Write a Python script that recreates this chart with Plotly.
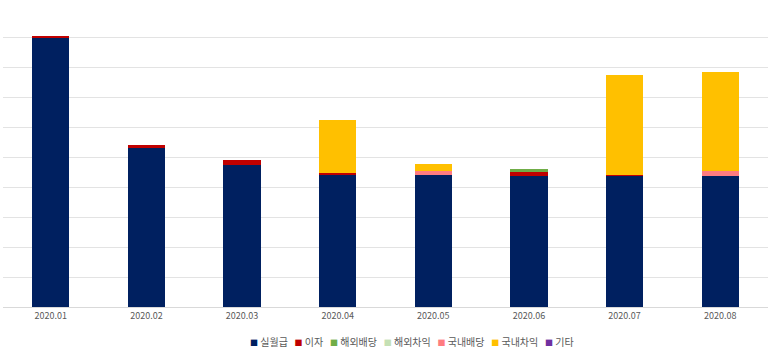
import plotly.graph_objects as go

categories = ["2020.01", "2020.02", "2020.03", "2020.04", "2020.05", "2020.06", "2020.07", "2020.08"]
series_names = ["실월급", "이자", "해외배당", "해외차익", "국내배당", "국내차익", "기타"]
salary      = [9.00, 5.32, 4.74, 4.39, 4.39, 4.37, 4.38, 4.38]
interest    = [0.04, 0.10, 0.16, 0.09, 0.00, 0.13, 0.03, 0.00]
fdividend   = [0.00, 0.00, 0.00, 0.00, 0.00, 0.10, 0.00, 0.00]
fgain       = [0.00, 0.00, 0.00, 0.00, 0.00, 0.00, 0.00, 0.00]
ddividend   = [0.00, 0.00, 0.00, 0.00, 0.14, 0.00, 0.00, 0.17]
dgain       = [0.00, 0.00, 0.00, 1.76, 0.24, 0.00, 3.33, 3.30]
other       = [0.00, 0.00, 0.00, 0.00, 0.00, 0.00, 0.00, 0.00]
series_values = [salary, interest, fdividend, fgain, ddividend, dgain, other]
colors = ["#002060", "#C00000", "#70AD47", "#C5E0B4", "#FF7C80", "#FFC000", "#7030A0"]

fig = go.Figure()
for name, vals, col in zip(series_names, series_values, colors):
    fig.add_trace(go.Bar(x=categories, y=vals, name=name, marker_color=col,
                         marker_line_width=0, showlegend=False))

legend_text = "&nbsp;&nbsp;&nbsp;".join(
    f'<span style="color:{c};font-size:8px">■</span> {n}' for n, c in zip(series_names, colors))
fig.add_annotation(text=legend_text, xref="paper", yref="paper", x=0.535, y=-0.082,
                   xanchor="center", yanchor="top", showarrow=False,
                   font=dict(size=10, color="#595959", family="Noto Sans CJK KR"))

fig.update_layout(
    barmode="stack", bargap=0.61,
    width=773, height=355,
    margin=dict(l=3, r=5, t=7, b=48),
    plot_bgcolor="white", paper_bgcolor="white",
    font=dict(family="Noto Sans CJK KR", size=9, color="#595959"),
)
fig.update_xaxes(showline=True, linecolor="#D9D9D9", linewidth=1, ticks="",
                 tickfont=dict(size=9, color="#595959"), showgrid=False)
fig.update_yaxes(range=[0, 10.01], dtick=1, showticklabels=False,
                 gridcolor="#E3E3E3", gridwidth=1, zeroline=False)

fig.write_html("out.html")
